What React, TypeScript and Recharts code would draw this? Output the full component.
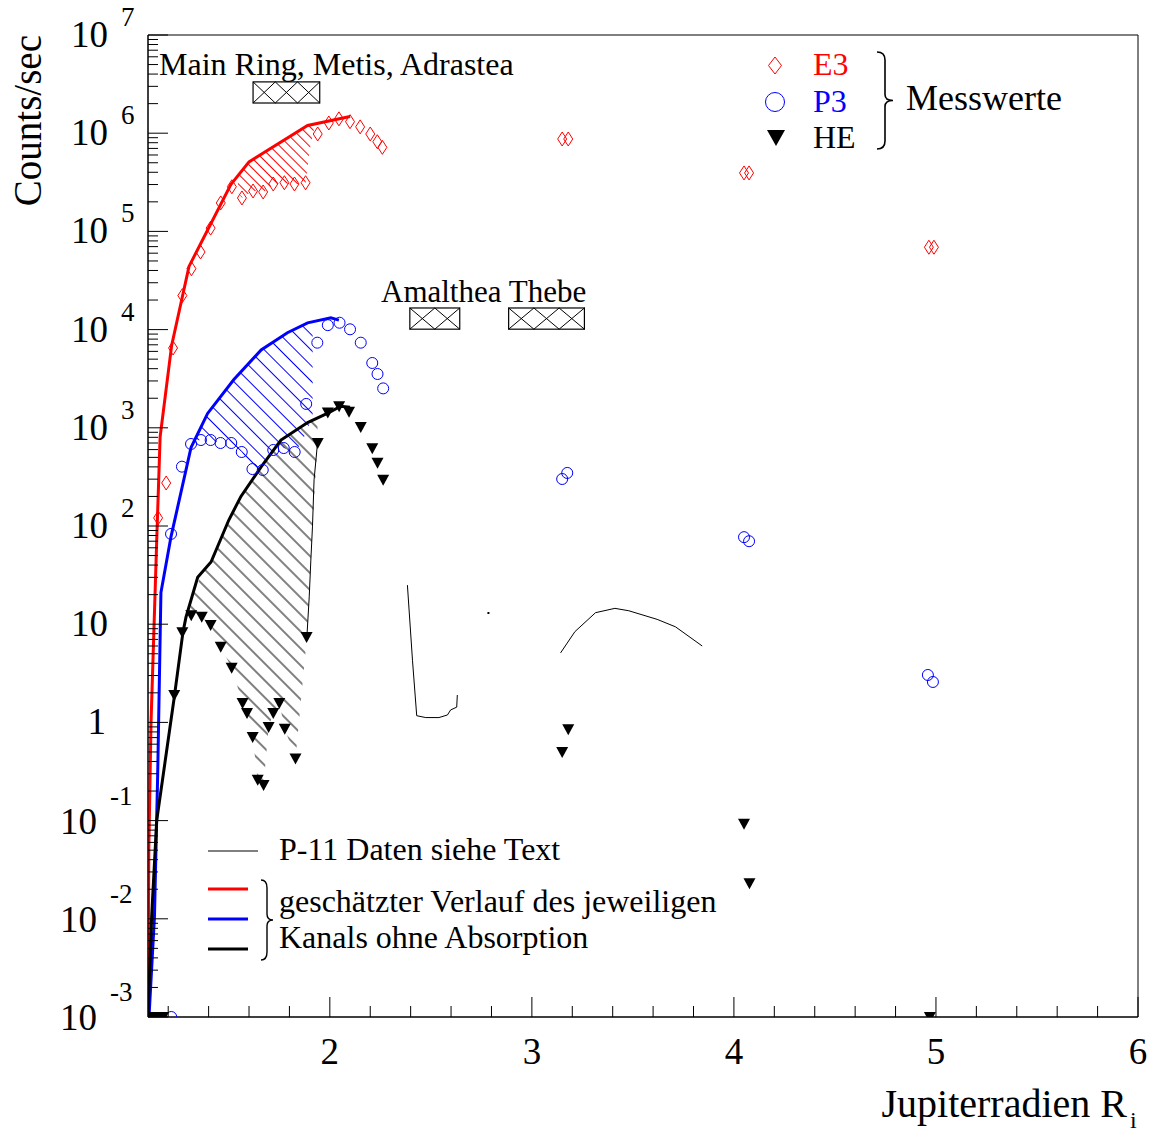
import React from "react";
import { ComposedChart, Line, Area, Scatter, XAxis, YAxis, ReferenceArea } from "recharts";

const FONT = '"Liberation Serif", "Times New Roman", serif';

// Messwerte
const e3X = [1.15, 1.19, 1.224, 1.27, 1.315, 1.36, 1.41, 1.46, 1.515, 1.565, 1.62, 1.67, 1.72, 1.775, 1.825, 1.88, 1.94, 1.995, 2.045, 2.1, 2.15, 2.2, 2.235, 2.26, 3.15, 3.18, 4.05, 4.075, 4.965, 4.99];
const e3Y = [121, 274, 6500, 22200, 41700, 61700, 108000, 195000, 285000, 219000, 258000, 252000, 304000, 313000, 304000, 313000, 982000, 1270000, 1400000, 1310000, 1160000, 982000, 819000, 718000, 873000, 873000, 394000, 394000, 69000, 69000];

const p3X = [1.214, 1.268, 1.313, 1.362, 1.41, 1.459, 1.512, 1.564, 1.617, 1.668, 1.72, 1.772, 1.826, 1.883, 1.938, 1.99, 2.048, 2.1, 2.153, 2.21, 2.236, 2.264, 3.15, 3.175, 4.05, 4.075, 4.96, 4.985, 1.215];
const p3Y = [83, 402, 684, 751, 751, 700, 700, 567, 380, 372, 594, 622, 567, 1750, 7360, 11100, 11750, 10070, 7360, 4570, 3530, 2520, 301, 347, 77, 70, 3.04, 2.58, 0.001];

const heX = [1.125, 1.15, 1.175, 1.23, 1.27, 1.314, 1.366, 1.41, 1.46, 1.514, 1.568, 1.59, 1.618, 1.643, 1.672, 1.697, 1.72, 1.75, 1.777, 1.83, 1.885, 1.94, 1.99, 2.046, 2.095, 2.153, 2.21, 2.236, 2.264, 3.15, 3.18, 4.05, 4.077, 4.97];
const heY = [0.001, 0.001, 0.001, 1.9, 8.3, 12.3, 11.9, 9.8, 5.9, 3.6, 1.58, 1.25, 0.71, 0.26, 0.23, 0.9, 1.25, 1.58, 0.86, 0.43, 7.4, 700, 1430, 1660, 1460, 1020, 620, 440, 295, 0.5, 0.85, 0.093, 0.023, 0.001];

// geschätzter Verlauf ohne Absorption
const redCurveX = [1.1, 1.104, 1.115, 1.143, 1.16, 1.217, 1.303, 1.51, 1.6, 1.89, 2.1];
const redCurveY = [0.001, 0.05, 1, 70, 810, 6900, 44000, 300000, 510000, 1200000, 1480000];
const blueCurveX = [1.105, 1.132, 1.148, 1.164, 1.214, 1.313, 1.395, 1.525, 1.66, 1.79, 1.89, 2.005, 2.045];
const blueCurveY = [0.001, 0.0105, 0.3, 21, 78, 630, 1400, 3100, 6200, 9300, 11700, 13200, 12500];
const blackCurveX = [1.1, 1.118, 1.143, 1.23, 1.273, 1.288, 1.346, 1.412, 1.5, 1.56, 1.66, 1.758, 1.89, 1.99, 2.054, 2.1];
const blackCurveY = [0.001, 0.0105, 0.1, 1.8, 8.3, 11.8, 30, 43, 115, 200, 400, 750, 1130, 1410, 1660, 1620];

// Rand der HE-Schraffur
const heEdgeX = [1.939, 1.922, 1.914, 1.906, 1.898, 1.886];
const heEdgeY = [700, 295, 98, 45, 19, 7.2];

// P-11 Daten
const p11aX = [2.384, 2.409, 2.43, 2.475, 2.54, 2.582, 2.598, 2.628, 2.631];
const p11aY = [25, 4.3, 1.17, 1.12, 1.12, 1.19, 1.34, 1.43, 1.9];
const p11bX = [3.142, 3.213, 3.315, 3.411, 3.48, 3.62, 3.711, 3.843];
const p11bY = [5.1, 8.4, 13.1, 14.5, 13.7, 11.2, 9.4, 6.0];
const p11DotX = [2.785];
const p11DotY = [13];

// schraffierte Bereiche (Absorption)
const redBandX = [1.545, 1.565, 1.62, 1.67, 1.72, 1.775, 1.825, 1.88, 1.9, 1.925];
const redBandLo = [250000, 220000, 260000, 250000, 300000, 310000, 300000, 310000, 670000, 1200000];
const redBandHi = [390000, 415000, 540000, 630000, 730000, 850000, 990000, 1160000, 1200000, 1250000];
const blueBandX = [1.33, 1.362, 1.41, 1.459, 1.512, 1.564, 1.617, 1.668, 1.72, 1.772, 1.826, 1.86, 1.915];
const blueBandLo = [740, 751, 751, 700, 700, 567, 380, 372, 594, 622, 567, 700, 1300];
const blueBandHi = [800, 1016, 1535, 2070, 2860, 3780, 4970, 6350, 7460, 8790, 10090, 11000, 12000];
const blackBandX = [1.31, 1.366, 1.41, 1.46, 1.514, 1.568, 1.59, 1.618, 1.643, 1.672, 1.697, 1.72, 1.75, 1.777, 1.83, 1.886, 1.914, 1.939];
const blackBandLo = [12.3, 11.9, 9.8, 5.9, 3.6, 1.58, 1.25, 0.71, 0.26, 0.23, 0.9, 1.25, 1.58, 0.86, 0.43, 7.2, 98, 700];
const blackBandHi = [16.8, 33, 42.5, 73, 131, 211, 246, 299, 356, 432, 507, 588, 713, 796, 938, 1114, 1191, 1259];

// Monde / Ring
const moonX1 = [1.62, 2.396, 2.885];
const moonX2 = [1.95, 2.643, 3.26];
const moonLo = [2030000, 10100, 10100];
const moonHi = [3330000, 16600, 16600];
const moonCrosses = [3, 2, 3];

const xTicks = [1.2, 1.4, 1.6, 1.8, 2, 2.2, 2.4, 2.6, 2.8, 3, 3.2, 3.4, 3.6, 3.8, 4, 4.2, 4.4, 4.6, 4.8, 5, 5.2, 5.4, 5.6, 5.8, 6];
const yDecades = [0.001, 0.01, 0.1, 1, 10, 100, 1000, 10000, 100000, 1000000, 10000000];
const yTicks = yDecades.concat(
  yDecades.slice(0, -1).flatMap((d) => [2, 3, 4, 5, 6, 7, 8, 9].map((m) => m * d))
);

const zip = (xs: number[], ys: number[]) => xs.map((x, i) => ({ x, y: ys[i] }));
const band = (xs: number[], lo: number[], hi: number[]) => xs.map((x, i) => ({ x, r: [lo[i], hi[i]] }));

const Diamond = (p: any) => (
  <path d={`M${p.cx},${p.cy - 7}L${p.cx + 4.5},${p.cy}L${p.cx},${p.cy + 7}L${p.cx - 4.5},${p.cy}Z`} fill="none" stroke="#ff0000" strokeWidth={1} />
);
const Ring = (p: any) => <circle cx={p.cx} cy={p.cy} r={5.5} fill="none" stroke="#0000ff" strokeWidth={1} />;
const TriDown = (p: any) => (
  <path d={`M${p.cx - 6},${p.cy - 5}L${p.cx + 6},${p.cy - 5}L${p.cx},${p.cy + 6}Z`} fill="#000" />
);
const Dot = (p: any) => <rect x={p.cx - 1} y={p.cy - 1} width={2} height={2} fill="#000" />;

const CrossBox = (p: any) => {
  const { x, y, width, height, n } = p;
  const cw = width / n;
  const lines = [];
  for (let i = 0; i < n; i++) {
    lines.push(<line key={`a${i}`} x1={x + i * cw} y1={y} x2={x + (i + 1) * cw} y2={y + height} stroke="#000" strokeWidth={1} />);
    lines.push(<line key={`b${i}`} x1={x + (i + 1) * cw} y1={y} x2={x + i * cw} y2={y + height} stroke="#000" strokeWidth={1} />);
  }
  return (
    <g>
      <rect x={x} y={y} width={width} height={height} fill="#fff" stroke="#000" strokeWidth={1.2} />
      {lines}
    </g>
  );
};

const YTick = (props: any) => {
  const { x, y, payload } = props;
  const v = payload.value;
  const e = Math.round(Math.log10(v));
  const major = Math.abs(Math.log10(v) - e) < 1e-6;
  if (!major) return <line x1={x} y1={y} x2={x + 10} y2={y} stroke="#000" strokeWidth={1} />;
  let label;
  if (e >= 2) {
    label = (
      <>
        <text x={x - 40} y={y + 12} textAnchor="end" fontSize={37} fontFamily={FONT}>10</text>
        <text x={x - 27} y={y - 9} textAnchor="start" fontSize={27} fontFamily={FONT}>{e}</text>
      </>
    );
  } else if (e === 1) {
    label = <text x={x - 40} y={y + 12} textAnchor="end" fontSize={37} fontFamily={FONT}>10</text>;
  } else if (e === 0) {
    label = <text x={x - 42} y={y + 12} textAnchor="end" fontSize={37} fontFamily={FONT}>1</text>;
  } else {
    label = (
      <>
        <text x={x - 51} y={y + 13} textAnchor="end" fontSize={37} fontFamily={FONT}>10</text>
        <text x={x - 38} y={y - 16} textAnchor="start" fontSize={27} fontFamily={FONT}>{`-${-e}`}</text>
      </>
    );
  }
  return (
    <g>
      <line x1={x} y1={y} x2={x + 20} y2={y} stroke="#000" strokeWidth={1} />
      {label}
    </g>
  );
};

const XTick = (props: any) => {
  const { x, y, payload } = props;
  const v = payload.value;
  const major = Math.abs(v - Math.round(v)) < 1e-6;
  return (
    <g>
      <line x1={x} y1={y} x2={x} y2={y - (major ? 20 : 11)} stroke="#000" strokeWidth={1} />
      {major && (
        <text x={x} y={y + 47} textAnchor="middle" fontSize={37} fontFamily={FONT}>{v}</text>
      )}
    </g>
  );
};

const hatch = (id: string, color: string, gap: number) => (
  <pattern id={id} patternUnits="userSpaceOnUse" width={gap} height={gap} patternTransform="rotate(-45)">
    <line x1={gap / 2} y1={0} x2={gap / 2} y2={gap} stroke={color} strokeWidth={1} />
  </pattern>
);

const brace = (x: number, y1: number, y2: number, w: number) => {
  const m = (y1 + y2) / 2;
  return `M${x},${y1} Q${x + w / 2},${y1} ${x + w / 2},${y1 + 8} L${x + w / 2},${m - 6} Q${x + w / 2},${m} ${x + w},${m} Q${x + w / 2},${m} ${x + w / 2},${m + 6} L${x + w / 2},${y2 - 8} Q${x + w / 2},${y2} ${x},${y2}`;
};

export default function App() {
  const txt = { fontFamily: FONT, fill: "#000" };
  return (
    <div style={{ position: "absolute", left: 0, top: 0, width: 1158, height: 1133, background: "#fff" }}>
      <svg width={0} height={0} style={{ position: "absolute" }}>
        <defs>
          {hatch("hRed", "#ff0000", 7)}
          {hatch("hBlue", "#0000ff", 11)}
          {hatch("hBlack", "#000000", 12)}
        </defs>
      </svg>
      <ComposedChart width={1158} height={1133} margin={{ top: 35, right: 20, left: 0, bottom: 0 }}>
        <XAxis
          dataKey="x"
          type="number"
          domain={[1.1, 6]}
          allowDataOverflow
          ticks={xTicks}
          interval={0}
          height={116}
          tickSize={0}
          tickMargin={0}
          tickLine={false}
          axisLine={{ stroke: "#000" }}
          tick={<XTick />}
        />
        <YAxis
          type="number"
          scale="log"
          domain={[0.001, 10000000]}
          allowDataOverflow
          ticks={yTicks}
          interval={0}
          width={148}
          tickSize={0}
          tickMargin={0}
          tickLine={false}
          axisLine={{ stroke: "#000" }}
          tick={<YTick />}
        />
        <ReferenceArea x1={1.1} x2={6} y1={0.001} y2={10000000} fill="none" stroke="#000" strokeWidth={1} ifOverflow="visible" />
        <Area data={band(redBandX, redBandLo, redBandHi)} dataKey="r" type="linear" stroke="none" fill="url(#hRed)" fillOpacity={1} isAnimationActive={false} />
        <Area data={band(blueBandX, blueBandLo, blueBandHi)} dataKey="r" type="linear" stroke="none" fill="url(#hBlue)" fillOpacity={1} isAnimationActive={false} />
        <Area data={band(blackBandX, blackBandLo, blackBandHi)} dataKey="r" type="linear" stroke="none" fill="url(#hBlack)" fillOpacity={1} isAnimationActive={false} />
        {moonX1.map((x1, i) => (
          <ReferenceArea
            key={`moon-${i}`}
            x1={x1}
            x2={moonX2[i]}
            y1={moonLo[i]}
            y2={moonHi[i]}
            shape={(p: any) => <CrossBox {...p} n={moonCrosses[i]} />}
          />
        ))}
        <Line data={zip(heEdgeX, heEdgeY)} dataKey="y" type="linear" stroke="#000" strokeWidth={1} dot={false} isAnimationActive={false} />
        <Line data={zip(p11aX, p11aY)} dataKey="y" type="linear" stroke="#000" strokeWidth={1} dot={false} isAnimationActive={false} />
        <Line data={zip(p11bX, p11bY)} dataKey="y" type="linear" stroke="#000" strokeWidth={1} dot={false} isAnimationActive={false} />
        <Line data={zip(redCurveX, redCurveY)} dataKey="y" type="linear" stroke="#ff0000" strokeWidth={3} dot={false} isAnimationActive={false} />
        <Line data={zip(blueCurveX, blueCurveY)} dataKey="y" type="linear" stroke="#0000ff" strokeWidth={3} dot={false} isAnimationActive={false} />
        <Line data={zip(blackCurveX, blackCurveY)} dataKey="y" type="linear" stroke="#000" strokeWidth={3} dot={false} isAnimationActive={false} />
        <Scatter data={zip(p11DotX, p11DotY)} dataKey="y" shape={<Dot />} isAnimationActive={false} />
        <Scatter data={zip(e3X, e3Y)} dataKey="y" shape={<Diamond />} isAnimationActive={false} />
        <Scatter data={zip(p3X, p3Y)} dataKey="y" shape={<Ring />} isAnimationActive={false} />
        <Scatter data={zip(heX, heY)} dataKey="y" shape={<TriDown />} isAnimationActive={false} />
      </ComposedChart>
      <svg width={1158} height={1133} style={{ position: "absolute", left: 0, top: 0, pointerEvents: "none" }}>
        {/* Achsentitel */}
        <text x={41} y={35} transform="rotate(-90 41 35)" textAnchor="end" fontSize={39} {...txt}>Counts/sec</text>
        <text x={1127} y={1117} textAnchor="end" fontSize={40} {...txt}>Jupiterradien R</text>
        <text x={1130} y={1128} fontSize={24} {...txt}>i</text>

        {/* Beschriftung Ring / Monde */}
        <text x={159} y={75} fontSize={32} {...txt}>Main Ring, Metis, Adrastea</text>
        <text x={381} y={302} fontSize={31} {...txt}>Amalthea Thebe</text>

        {/* Legende Messwerte */}
        <path d="M775,57L781.5,65.5L775,74L768.5,65.5Z" fill="none" stroke="#ff0000" strokeWidth={1} />
        <circle cx={775} cy={102} r={9.5} fill="none" stroke="#0000ff" strokeWidth={1} />
        <path d="M767,130L785,130L776,146Z" fill="#000" />
        <text x={813} y={75} fontSize={32} fontFamily={FONT} fill="#ff0000">E3</text>
        <text x={813} y={112} fontSize={32} fontFamily={FONT} fill="#0000ff">P3</text>
        <text x={813} y={148} fontSize={32} {...txt}>HE</text>
        <path d={brace(877, 52, 149, 16)} fill="none" stroke="#000" strokeWidth={1.6} />
        <text x={906} y={110} fontSize={36} {...txt}>Messwerte</text>

        {/* Legende Verlauf */}
        <line x1={208} y1={851} x2={258} y2={851} stroke="#000" strokeWidth={1} />
        <text x={279} y={860} fontSize={32} {...txt}>P-11 Daten siehe Text</text>
        <line x1={208} y1={889} x2={248} y2={889} stroke="#ff0000" strokeWidth={3} />
        <line x1={208} y1={919} x2={248} y2={919} stroke="#0000ff" strokeWidth={3} />
        <line x1={208} y1={949} x2={248} y2={949} stroke="#000" strokeWidth={3} />
        <path d={brace(261, 880, 960, 12)} fill="none" stroke="#000" strokeWidth={1.4} />
        <text x={279} y={912} fontSize={32} {...txt}>geschätzter Verlauf des jeweiligen</text>
        <text x={279} y={948} fontSize={32} {...txt}>Kanals ohne Absorption</text>
      </svg>
    </div>
  );
}
